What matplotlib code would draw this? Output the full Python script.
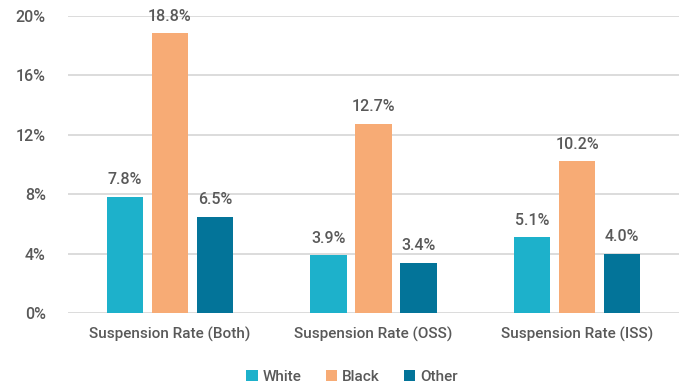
import matplotlib
matplotlib.use("Agg")
import matplotlib.pyplot as plt
import numpy as np

categories = ["Suspension Rate (Both)", "Suspension Rate (OSS)", "Suspension Rate (ISS)"]
series_names = ["White", "Black", "Other"]
white = [7.8, 3.9, 5.1]
black = [18.8, 12.7, 10.2]
other = [6.5, 3.4, 4.0]
colors = ["#1db1cb", "#f7ab75", "#037499"]
yticks = [0, 4, 8, 12, 16, 20]

plt.rcParams['font.family'] = ['Roboto', 'DejaVu Sans']
txt = "#595959"

fig = plt.figure(figsize=(6.85, 3.88), dpi=100)
ax = fig.add_axes([68/685, (388-313.3)/388, 611/685, (313.3-15.5)/388])

x = np.arange(len(categories))
w = 0.177
off = 0.221
for i, (vals, name, c) in enumerate(zip([white, black, other], series_names, colors)):
    pos = x + (i - 1) * off
    ax.bar(pos, vals, width=w, color=c, label=name, zorder=3)
    for p, v in zip(pos, vals):
        ax.annotate(f"{v:.1f}%", (p, v), xytext=(0, 7), textcoords="offset points",
                    ha="center", va="bottom", fontsize=11.5, color=txt, fontweight="medium")

ax.set_xlim(-0.5, 2.5)
ax.set_ylim(0, 20)
ax.set_yticks(yticks)
ax.set_yticklabels([f"{t}%" for t in yticks], fontsize=11.5, color=txt, fontweight="medium")
ax.set_xticks(x)
ax.set_xticklabels(categories, fontsize=11, color=txt, fontweight="medium")
ax.tick_params(axis="both", length=0)
ax.tick_params(axis="y", pad=16)
ax.tick_params(axis="x", pad=10)
ax.grid(axis="y", color="#d9d9d9", linewidth=1.3, zorder=0)
for s in ax.spines.values():
    s.set_visible(False)

leg = fig.legend(loc="center", bbox_to_anchor=(352/685, 1 - 377/388), ncol=3, frameon=False,
                 prop={"size": 11, "weight": "medium"}, handlelength=0.75, handleheight=0.75,
                 handletextpad=0.3, columnspacing=1.6, labelcolor=txt)
fig.savefig("out.png", dpi=100)
